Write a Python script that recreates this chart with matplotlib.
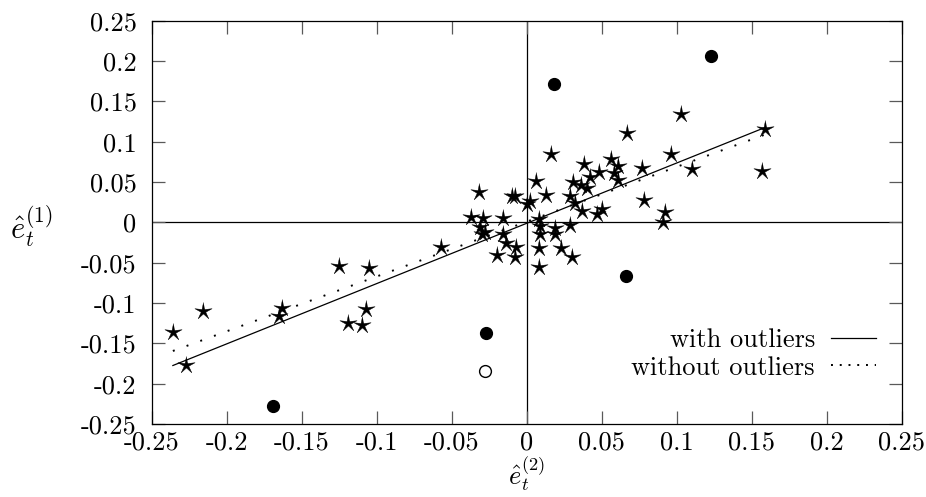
import numpy as np
import matplotlib.pyplot as plt
from matplotlib.lines import Line2D

plt.rcParams['font.family'] = 'serif'
plt.rcParams['font.serif'] = ['cmr10', 'DejaVu Serif']
plt.rcParams['mathtext.fontset'] = 'cm'
plt.rcParams['font.size'] = 19

# residual pairs (e_t^(2), e_t^(1))
star_x = [-0.236, -0.227, -0.216, -0.165, -0.163, -0.125, -0.119, -0.110, -0.107, -0.105,
          -0.057, -0.032, -0.010, -0.008, -0.037, -0.029, -0.016, -0.031, -0.028, -0.030,
          -0.016, -0.014, -0.007, -0.008, -0.020, 0.002, 0.000, 0.016, 0.038, 0.056,
          0.061, 0.048, 0.058, 0.061, 0.042, 0.031, 0.006, 0.036, 0.040, 0.013,
          0.029, 0.032, 0.037, 0.047, 0.050, 0.008, 0.009, 0.009, 0.019, 0.019,
          0.029, 0.008, 0.023, 0.030, 0.008, 0.067, 0.103, 0.096, 0.077, 0.078,
          0.092, 0.091, 0.110, 0.159, 0.157]
star_y = [-0.136, -0.177, -0.110, -0.116, -0.106, -0.054, -0.125, -0.127, -0.108, -0.057,
          -0.031, 0.038, 0.033, 0.033, 0.007, 0.006, 0.006, -0.006, -0.012, -0.015,
          -0.015, -0.026, -0.030, -0.043, -0.041, 0.027, 0.023, 0.085, 0.073, 0.079,
          0.070, 0.062, 0.061, 0.052, 0.056, 0.050, 0.051, 0.047, 0.043, 0.034,
          0.033, 0.024, 0.014, 0.011, 0.017, 0.004, -0.004, -0.014, -0.007, -0.014,
          -0.003, -0.032, -0.032, -0.043, -0.055, 0.111, 0.134, 0.085, 0.067, 0.028,
          0.013, 0.001, 0.066, 0.116, 0.064]

# outliers
out_x = [0.018, 0.123, -0.027, -0.169, 0.066]
out_y = [0.172, 0.206, -0.137, -0.228, -0.067]
open_x = [-0.028]
open_y = [-0.184]

# fitted lines (slope, intercept)
fit_with = (0.748, -0.001)
fit_without = (0.680, 0.001)

ticks = [-0.25, -0.2, -0.15, -0.1, -0.05, 0, 0.05, 0.1, 0.15, 0.2, 0.25]
tick_labels = ['-0.25', '-0.2', '-0.15', '-0.1', '-0.05', '0', '0.05', '0.1', '0.15', '0.2', '0.25']

# thin five-pointed star marker
ang = np.pi / 2 + np.arange(10) * np.pi / 5
rad = np.where(np.arange(10) % 2 == 0, 1.0, 0.27)
star = list(zip(rad * np.cos(ang), rad * np.sin(ang)))

fig = plt.figure(figsize=(9.26, 4.97), dpi=100)
ax = fig.add_axes([0.164, 0.147, 0.810, 0.811])

ax.axhline(0, color='black', lw=0.9, zorder=1)
ax.axvline(0, color='black', lw=0.9, zorder=1)

xs = np.array([min(star_x), max(star_x)])
ax.plot(xs, fit_with[0] * xs + fit_with[1], color='black', lw=0.9, zorder=2)
ax.plot(xs, fit_without[0] * xs + fit_without[1], color='black', lw=1.4,
        linestyle=(0, (1, 6.5)), zorder=2)

ax.plot(star_x, star_y, linestyle='none', marker=star, markersize=13,
        color='black', markeredgewidth=0.3, zorder=3)
ax.plot(out_x, out_y, linestyle='none', marker='o', markersize=8.5,
        color='black', zorder=3)
ax.plot(open_x, open_y, linestyle='none', marker='o', markersize=8.5,
        markerfacecolor='white', markeredgecolor='black', markeredgewidth=1, zorder=3)

ax.set_xlim(-0.25, 0.25)
ax.set_ylim(-0.25, 0.25)
ax.set_xticks(ticks)
ax.set_xticklabels(tick_labels)
ax.set_yticks(ticks)
ax.set_yticklabels(tick_labels)
ax.tick_params(direction='in', top=True, right=True, length=9.5, width=0.9,
               color='0.35')
ax.tick_params(axis='x', pad=5)
ax.tick_params(axis='y', pad=11)
for s in ax.spines.values():
    s.set_linewidth(0.9)

ax.set_xlabel(r'$\hat{e}_t^{(2)}$', fontsize=19)
ax.xaxis.set_label_coords(0.5, -0.074)
ax.set_ylabel(r'$\hat{e}_t^{(1)}$', fontsize=22, rotation=0, ha='right', va='center')
ax.yaxis.set_label_coords(-0.132, 0.49)

handles = [Line2D([], [], color='black', lw=0.9),
           Line2D([], [], color='black', lw=1.4, linestyle=(0, (1, 3.5)))]
ax.legend(handles, ['with outliers', 'without outliers'], loc='lower right',
          bbox_to_anchor=(0.965, 0.11), frameon=False, markerfirst=False,
          handlelength=1.7, handletextpad=0.6, labelspacing=0.15,
          borderpad=0, borderaxespad=0)

fig.savefig('out.png', dpi=100)
